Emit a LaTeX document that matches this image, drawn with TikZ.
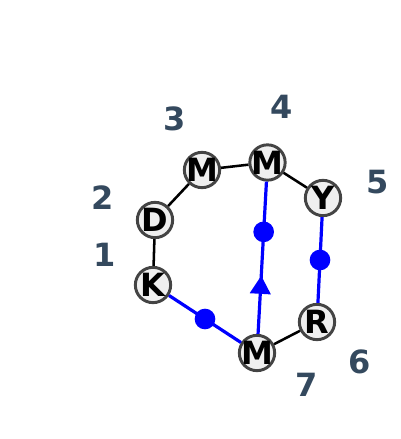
\documentclass[tikz,border=0pt]{standalone}
\usepackage{fontspec}
\setmainfont{DejaVu Sans}
\usetikzlibrary{decorations.markings}
\definecolor{nodefill}{HTML}{EFEFEF}
\definecolor{nodeline}{HTML}{444444}
\definecolor{labelcol}{HTML}{34495E}
\tikzset{
  atom/.style={circle,draw=nodeline,fill=nodefill,line width=2.2pt,minimum size=26.5pt,inner sep=0pt,
    label={[font=\fontsize{24}{24}\selectfont\bfseries,inner sep=0pt,text=black]center:#1}},
  numlabel/.style={text=labelcol,font=\fontsize{24}{24}\selectfont\bfseries,inner sep=0pt},
  bond/.style={draw=black,line width=1.9pt},
  bluebond/.style={draw=blue,line width=2.4pt},
  bdot/.style={circle,fill=blue,minimum size=15.5pt,inner sep=0pt}}
\begin{document}
\begin{tikzpicture}[x=0.75pt,y=0.75pt]
\useasboundingbox (0,0) rectangle (400,439);
% bonds drawn first via coordinates of nodes
\node[atom=K] (k) at (153,154) {};
\node[atom=D] (d) at (155,219) {};
\node[atom=M] (m3) at (202,269) {};
\node[atom=M] (m4) at (267.5,276.5) {};
\node[atom=Y] (y) at (323,241) {};
\node[atom=R] (r) at (317,117) {};
\node[atom=M] (m7) at (257,86) {};
% labels
\node[numlabel] (l1) at (105,184) {1};
\node[numlabel] (l2) at (103,241) {2};
\node[numlabel] (l3) at (175,320) {3};
\node[numlabel] (l4) at (282,332) {4};
\node[numlabel] (l5) at (378,257) {5};
\node[numlabel] (l6) at (360,77) {6};
\node[numlabel] (l7) at (307,54) {7};
% black bonds
\path[bond] (k) -- (d);
\path[bond] (d) -- (m3);
\path[bond] (m3) -- (m4);
\path[bond] (m4) -- (y);
\path[bond] (r) -- (m7);
% blue bonds
\path[bluebond] (k) -- node[bdot,pos=0.5] (dk) {} (m7);
\path[bluebond] (y) -- node[bdot,pos=0.5] (dy) {} (r);
\path[bluebond,postaction={decorate},
  decoration={markings,mark=at position 0.32 with {\fill[blue] (7pt,0pt) -- (-6.5pt,8pt) -- (-6.5pt,-8pt) -- cycle;}}]
  (m7) -- node[bdot,pos=0.67] (dm) {} (m4);
\end{tikzpicture}
\end{document}
